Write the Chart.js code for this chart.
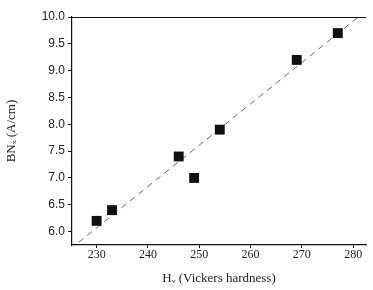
<!DOCTYPE html>
<html lang="en">
  <head>
    <meta charset="UTF-8" />
    <title>BN vs Vickers hardness</title>
    <script src="https://cdn.jsdelivr.net/npm/chart.js"></script>
    <style>
        html, body {
            margin: 0;
            padding: 0;
            background: white;
        }
        .chart-box {
            position: relative;
            width: 373px;
            height: 290px;
        }
    </style>
  </head>

  <body>
    <div class="chart-box">
        <canvas id="bnChart"></canvas>
    </div>

    <script>
        // Measured points
        const hardness = [230, 233, 246, 249, 254, 269, 277];
        const bnValues = [6.2, 6.4, 7.4, 7.0, 7.9, 9.2, 9.7];

        // Dashed fit line end points, as drawn
        const fitX = [226.5, 281];
        const fitY = [5.8, 10.0];

        // Tick labels
        const xTicks = [230, 240, 250, 260, 270, 280];
        const yTicks = [6.0, 6.5, 7.0, 7.5, 8.0, 8.5, 9.0, 9.5, 10.0];

        const serif = "'Liberation Serif', 'DejaVu Serif', serif";
        const sans = "'Liberation Sans', Arial, sans-serif";

        // Top frame line
        const topLine = {
            id: 'topLine',
            afterDraw(chart) {
                const { ctx, chartArea } = chart;
                ctx.save();
                ctx.strokeStyle = '#111';
                ctx.lineWidth = 1.2;
                ctx.beginPath();
                ctx.moveTo(chartArea.left, chartArea.top + 0.5);
                ctx.lineTo(chartArea.right, chartArea.top + 0.5);
                ctx.stroke();
                ctx.restore();
            }
        };

        const ctx = document.getElementById('bnChart').getContext('2d');
        new Chart(ctx, {
            type: 'scatter',
            data: {
                datasets: [{
                    label: 'Data',
                    data: hardness.map((x, i) => ({ x: x, y: bnValues[i] })),
                    pointStyle: 'rect',
                    pointRadius: 7,
                    backgroundColor: '#111',
                    borderColor: '#111',
                    borderWidth: 0
                }, {
                    label: 'Fit',
                    type: 'line',
                    data: fitX.map((x, i) => ({ x: x, y: fitY[i] })),
                    borderColor: '#666',
                    borderWidth: 1,
                    borderDash: [6, 5],
                    pointRadius: 0,
                    fill: false
                }]
            },
            options: {
                responsive: true,
                maintainAspectRatio: false,
                animation: false,
                layout: {
                    padding: { left: 0, right: 2, top: 17, bottom: 0 }
                },
                plugins: {
                    legend: { display: false },
                    tooltip: { enabled: false }
                },
                scales: {
                    x: {
                        type: 'linear',
                        min: 225.2,
                        max: 282.5,
                        afterFit: s => { s.height = 45; },
                        afterBuildTicks: s => { s.ticks = xTicks.map(v => ({ value: v })); },
                        border: { color: '#111', width: 1.2 },
                        grid: { drawOnChartArea: false, color: '#111', tickLength: 3 },
                        ticks: {
                            color: '#222',
                            padding: 0,
                            font: { family: serif, size: 12 }
                        },
                        title: {
                            display: true,
                            text: 'Hᵥ (Vickers hardness)',
                            color: '#222',
                            padding: { top: 0 },
                            font: { family: serif, size: 13 }
                        }
                    },
                    y: {
                        min: 5.75,
                        max: 10.0,
                        afterFit: s => { s.width = 72; },
                        afterBuildTicks: s => { s.ticks = yTicks.map(v => ({ value: v })); },
                        border: { color: '#111', width: 1.2 },
                        grid: { drawOnChartArea: false, color: '#111', tickLength: 4 },
                        ticks: {
                            color: '#222',
                            padding: 3,
                            font: { family: sans, size: 12 },
                            callback: v => v.toFixed(1)
                        },
                        title: {
                            display: true,
                            text: 'BNₓ (A/cm)',
                            color: '#222',
                            padding: { bottom: 2 },
                            font: { family: serif, size: 13 }
                        }
                    }
                }
            },
            plugins: [topLine]
        });
    </script>
  </body>
</html>
